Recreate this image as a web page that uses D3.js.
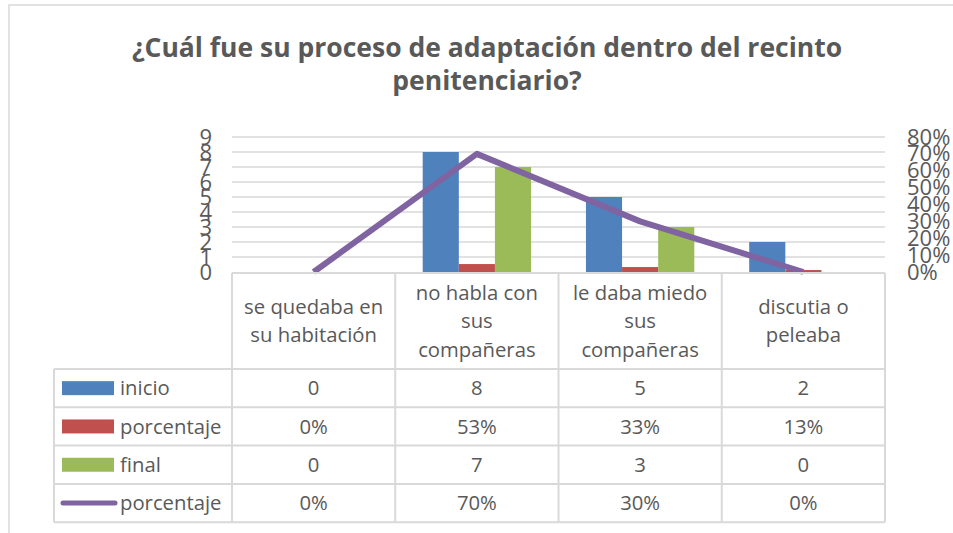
<!DOCTYPE html>
<html><head><meta charset="utf-8">
<script src="https://cdn.jsdelivr.net/npm/d3@7"></script>
<style>
body{margin:0;background:#fff;}
svg{display:block;}
text{font-family:"Open Sans",sans-serif;fill:#595959;}
</style></head>
<body><svg id="c" width="953" height="533"></svg>
<script>
const categories = [["se quedaba en","su habitación"],["no habla con","sus","compañeras"],["le daba miedo","sus","compañeras"],["discutia o","peleaba"]];
const inicio = [0,8,5,2];
const porcentaje1 = [0,0.53,0.33,0.13];
const final = [0,7,3,0];
const porcentaje2 = [0,0.70,0.30,0];
const leftTicks = [0,1,2,3,4,5,6,7,8,9];
const rightTicks = [0,0.1,0.2,0.3,0.4,0.5,0.6,0.7,0.8];
const seriesNames = ["inicio","porcentaje","final","porcentaje"];
const title = ["¿Cuál fue su proceso de adaptación dentro del recinto","penitenciario?"];

const colors = {inicio:"#4f81bd", p1:"#c0504d", final:"#9bbb59", p2:"#8064a2"};
const svg = d3.select("#c");
const grid = "#d9d9d9";

// chart border
svg.append("rect").attr("x",9).attr("y",5).attr("width",1000).attr("height",600)
  .attr("fill","none").attr("stroke",grid).attr("stroke-width",1.5);

// title
svg.append("text").selectAll("tspan").data(title).join("tspan")
  .attr("x",487).attr("y",(d,i)=>57+i*33).attr("text-anchor","middle")
  .style("font-size","26.5px").style("font-weight","bold").text(d=>d);

const x = d3.scaleBand().domain(d3.range(categories.length)).range([232,885]).padding(0);
const xs = d3.scaleBand().domain([0,1,2]).range([0,x.bandwidth()]).paddingInner(0).paddingOuter(0.76);
const yL = d3.scaleLinear().domain([0,9]).range([272,137]);
const yR = d3.scaleLinear().domain([0,0.8]).range([272,137]);

// gridlines
svg.append("g").selectAll("line").data(leftTicks.slice(1)).join("line")
  .attr("x1",232).attr("x2",885).attr("y1",d=>yL(d)).attr("y2",d=>yL(d))
  .attr("stroke",grid).attr("stroke-width",1.5);

// bars
const barSeries = [inicio, porcentaje1, final];
const barColors = [colors.inicio, colors.p1, colors.final];
barSeries.forEach((s,si)=>{
  svg.append("g").selectAll("rect").data(s).join("rect")
    .attr("x",(d,i)=>x(i)+xs(si)).attr("width",xs.bandwidth())
    .attr("y",d=>yL(d)).attr("height",d=>yL(0)-yL(d))
    .attr("fill",barColors[si]);
});

// line
const line = d3.line().x((d,i)=>x(i)+x.bandwidth()/2).y(d=>yR(d));
svg.append("path").datum(porcentaje2).attr("d",line).attr("fill","none")
  .attr("stroke",colors.p2).attr("stroke-width",6).attr("stroke-linejoin","round");

// axes
const axL = svg.append("g").attr("transform","translate(212,0)")
  .call(d3.axisLeft(yL).tickValues(leftTicks).tickSize(0).tickPadding(0).tickFormat(d3.format("d")));
axL.select(".domain").remove();
axL.selectAll("text").style("font-size","22px").style("fill","#595959").style("font-family","'Open Sans',sans-serif");
const axR = svg.append("g").attr("transform","translate(907,0)")
  .call(d3.axisRight(yR).tickValues(rightTicks).tickSize(0).tickPadding(0).tickFormat(d3.format(".0%")));
axR.select(".domain").remove();
axR.selectAll("text").style("font-size","22px").style("fill","#595959").style("font-family","'Open Sans',sans-serif");

// data table
const tTop = 273, hBot = 369, rowH = 38.3, tLeft = 54;
const rowsY = d3.range(5).map(i=>hBot+i*rowH);
const tg = svg.append("g").attr("stroke",grid).attr("stroke-width",2).attr("fill","none");
tg.append("line").attr("x1",232).attr("x2",885).attr("y1",tTop).attr("y2",tTop);
d3.range(categories.length+1).forEach(i=>{
  const xx = i<categories.length ? x(i) : x.range()[1];
  tg.append("line").attr("x1",xx).attr("x2",xx).attr("y1",tTop).attr("y2",rowsY[4]);
});
tg.append("line").attr("x1",tLeft).attr("x2",tLeft).attr("y1",hBot).attr("y2",rowsY[4]);
rowsY.forEach(y=>tg.append("line").attr("x1",tLeft).attr("x2",885).attr("y1",y).attr("y2",y));

// header text
categories.forEach((lines,i)=>{
  const cx = x(i)+x.bandwidth()/2, cy=(tTop+hBot)/2, lh=28.5;
  svg.append("text").selectAll("tspan").data(lines).join("tspan")
    .attr("x",cx).attr("y",(d,j)=>cy+(j-(lines.length-1)/2)*lh).attr("dy","0.35em")
    .attr("text-anchor","middle").style("font-size","20.3px").text(d=>d);
});

// rows
const rowData = [inicio, porcentaje1, final, porcentaje2];
const fmts = [d3.format("d"), d3.format(".0%"), d3.format("d"), d3.format(".0%")];
const keyColors = [colors.inicio, colors.p1, colors.final, colors.p2];
rowData.forEach((s,ri)=>{
  const cy = rowsY[ri]+rowH/2;
  if(ri<3){
    svg.append("rect").attr("x",62).attr("y",cy-7).attr("width",52).attr("height",14).attr("fill",keyColors[ri]);
  } else {
    svg.append("line").attr("x1",63).attr("x2",115).attr("y1",cy).attr("y2",cy)
      .attr("stroke",keyColors[ri]).attr("stroke-width",5).attr("stroke-linecap","round");
  }
  svg.append("text").attr("x",120).attr("y",cy).attr("dy","0.35em").style("font-size","20.3px").text(seriesNames[ri]);
  svg.append("g").selectAll("text").data(s).join("text")
    .attr("x",(d,i)=>x(i)+x.bandwidth()/2).attr("y",cy).attr("dy","0.35em")
    .attr("text-anchor","middle").style("font-size","20.3px").text(d=>fmts[ri](d));
});
</script></body></html>
